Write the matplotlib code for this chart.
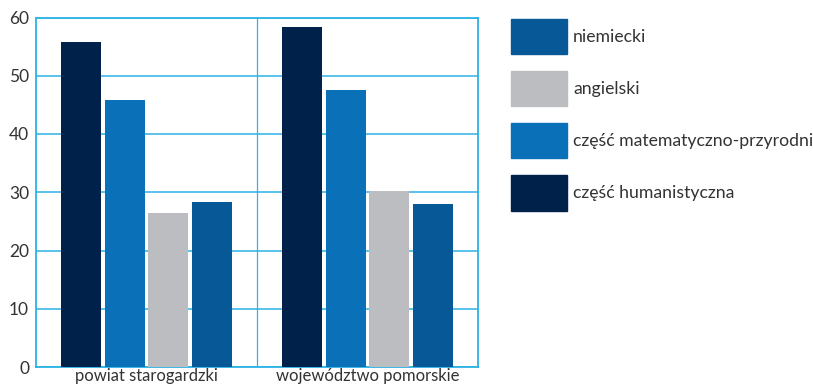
import matplotlib.pyplot as plt
import numpy as np
from matplotlib.patches import Patch

plt.rcParams['font.family'] = ['Lato', 'DejaVu Sans']

categories = ['powiat starogardzki', 'województwo pomorskie']
series = ['część humanistyczna', 'część matematyczno-przyrodnicza', 'angielski', 'niemiecki']
humanistyczna = [55.8, 58.4]
matematyczno = [45.9, 47.6]
angielski = [26.5, 30.2]
niemiecki = [28.3, 28.0]
values = [humanistyczna, matematyczno, angielski, niemiecki]
colors = ['#00214a', '#0a70b8', '#bcbdc0', '#065897']
yticks = [0, 10, 20, 30, 40, 50, 60]

grid_col = '#2bb3e6'
text_col = '#333333'

fig = plt.figure(figsize=(8.13, 3.90), dpi=100)
ax = fig.add_axes([36/813, 1 - 367/390, 442/813, 349.5/390])

x = np.arange(len(categories)) + 0.5
step = 0.199
width = 0.181
for i, (name, vals, col) in enumerate(zip(series, values, colors)):
    ax.bar(x + (i - 1.5) * step, vals, width, color=col, label=name, zorder=3)

ax.set_xlim(0, 2)
ax.set_ylim(0, 60)
ax.set_yticks(yticks)
ax.set_xticks(x)
ax.set_xticklabels(categories)
ax.tick_params(length=0, labelsize=12.5, colors=text_col, pad=5)
ax.tick_params(axis='x', labelsize=12, pad=1)
ax.grid(axis='y', color=grid_col, linewidth=1.1, zorder=1)
ax.axvline(1, color=grid_col, linewidth=0.9, zorder=1)
for s in ax.spines.values():
    s.set_color(grid_col)
    s.set_linewidth(1.3)

# legend, in reverse order like the original (long label runs off the edge there too)
handles = [Patch(color=c) for c in colors][::-1]
fig.legend(handles, series[::-1], loc='upper left', bbox_to_anchor=(511/813, 1 - 19/390),
           frameon=False, fontsize=12.7, handlelength=3.18, handleheight=2.68,
           labelspacing=0.97, handletextpad=0.34, borderpad=0, borderaxespad=0,
           labelcolor=text_col)

plt.savefig('out.png', dpi=100)
